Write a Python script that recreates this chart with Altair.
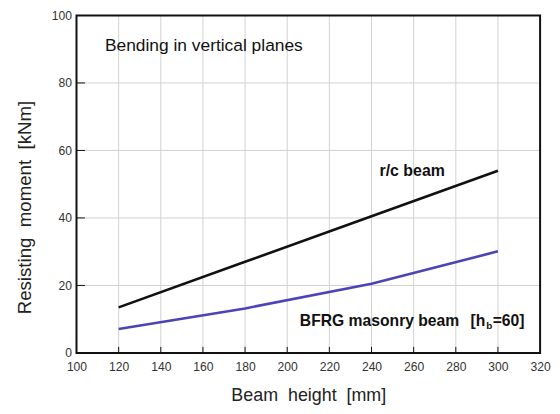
import altair as alt
import pandas as pd

# Data
beam_height = [120, 180, 240, 300]
rc_beam = [13.5, 27.0, 40.5, 54.0]
bfrg_beam = [7.1, 13.2, 20.5, 30.1]

x_ticks = [100, 120, 140, 160, 180, 200, 220, 240, 260, 280, 300, 320]
y_ticks = [0, 20, 40, 60, 80, 100]

series_names = ["r/c beam", "BFRG masonry beam"]
series_colors = ["#111111", "#4a44b8"]

rows = []
for h, v in zip(beam_height, rc_beam):
    rows.append({"h": h, "M": v, "s": series_names[0]})
for h, v in zip(beam_height, bfrg_beam):
    rows.append({"h": h, "M": v, "s": series_names[1]})
df = pd.DataFrame(rows)

FONT = "Liberation Sans"
NB = "\u00a0"
xs = alt.Scale(domain=[x_ticks[0], x_ticks[-1]], nice=False, zero=False)
ys = alt.Scale(domain=[y_ticks[0], y_ticks[-1]], nice=False)

xaxis = alt.Axis(values=x_ticks, grid=False, tickSize=0, labelFlush=False,
                 labelPadding=8, domain=False, labelFont=FONT, labelFontSize=12.2,
                 labelColor="#333", title=f"Beam{NB}{NB}height{NB}{NB}[mm]", titleFont=FONT,
                 titleFontSize=18, titleFontWeight="normal", titleColor="#222",
                 titleY=43, titleBaseline="middle")
yaxis = alt.Axis(values=y_ticks, grid=False, tickSize=0, labelFlush=False,
                 labelPadding=5, domain=False, labelFont=FONT, labelFontSize=12.2,
                 labelColor="#333", title=f"Resisting{NB}{NB}moment{NB}{NB}[kNm]", titleFont=FONT,
                 titleFontSize=18.8, titleFontWeight="normal", titleColor="#222",
                 titleX=-52, titleY=193, titleBaseline="middle")

xt = pd.DataFrame({"t": x_ticks[1:-1]})
yt = pd.DataFrame({"t": y_ticks[1:-1]})

GRID = "#d2d2d2"
xgrid = alt.Chart(xt).mark_rule(color=GRID, strokeWidth=1).encode(
    x=alt.X("t:Q", scale=xs, axis=xaxis), y=alt.datum(y_ticks[0], scale=ys, axis=yaxis),
    y2=alt.datum(y_ticks[-1]))
ygrid = alt.Chart(yt).mark_rule(color=GRID, strokeWidth=1).encode(
    y=alt.Y("t:Q", scale=ys), x=alt.datum(x_ticks[0], scale=xs), x2=alt.datum(x_ticks[-1]))

lines = alt.Chart(df).mark_line(strokeWidth=2.6).encode(
    x=alt.X("h:Q", scale=xs),
    y=alt.Y("M:Q", scale=ys),
    color=alt.Color("s:N", scale=alt.Scale(domain=series_names, range=series_colors), legend=None),
    detail="s:N",
)

xtick = alt.Chart(xt).mark_rule(color="#111", strokeWidth=1).encode(
    x=alt.X("t:Q", scale=xs), y=alt.datum(0, scale=ys), y2=alt.datum(1.8))
ytick = alt.Chart(yt).mark_rule(color="#111", strokeWidth=1).encode(
    y=alt.Y("t:Q", scale=ys), x=alt.datum(100, scale=xs), x2=alt.datum(104))

frame = alt.Chart(pd.DataFrame({"a": [0]})).mark_rect(
    fill=None, stroke="#111", strokeWidth=2).encode(
    x=alt.datum(x_ticks[0], scale=xs), x2=alt.datum(x_ticks[-1]),
    y=alt.datum(y_ticks[0], scale=ys), y2=alt.datum(y_ticks[-1]))

def label(txt, x, y, size, weight, align="left", dy=0):
    return alt.Chart(pd.DataFrame({"x": [x], "y": [y], "t": [txt]})).mark_text(
        font=FONT, fontSize=size, fontWeight=weight, align=align, baseline="middle",
        color="#111", dy=dy).encode(
        x=alt.X("x:Q", scale=xs), y=alt.Y("y:Q", scale=ys), text="t:N")

texts = [
    label("Bending in vertical planes", 113.5, 90.9, 17.5, "normal"),
    label("r/c beam", 259.3, 53.8, 16, "bold", align="center"),
    label("BFRG masonry beam", 206, 9.4, 15.8, "bold"),
    label("[h", 287.0, 9.4, 15.8, "bold"),
    label("b", 294.5, 9.4, 10, "bold", dy=5),
    label("=60]", 297.5, 9.4, 15.8, "bold"),
]

chart = alt.layer(xgrid, ygrid, lines, xtick, ytick, frame, *texts).properties(
    width=467, height=340,
    autosize=alt.AutoSizeParams(type="none"),
    padding={"left": 69, "top": 6, "right": 12, "bottom": 60},
    background="white",
).configure_view(stroke=None)

chart.save("out.html", embed_options={"renderer": "svg", "actions": False})
